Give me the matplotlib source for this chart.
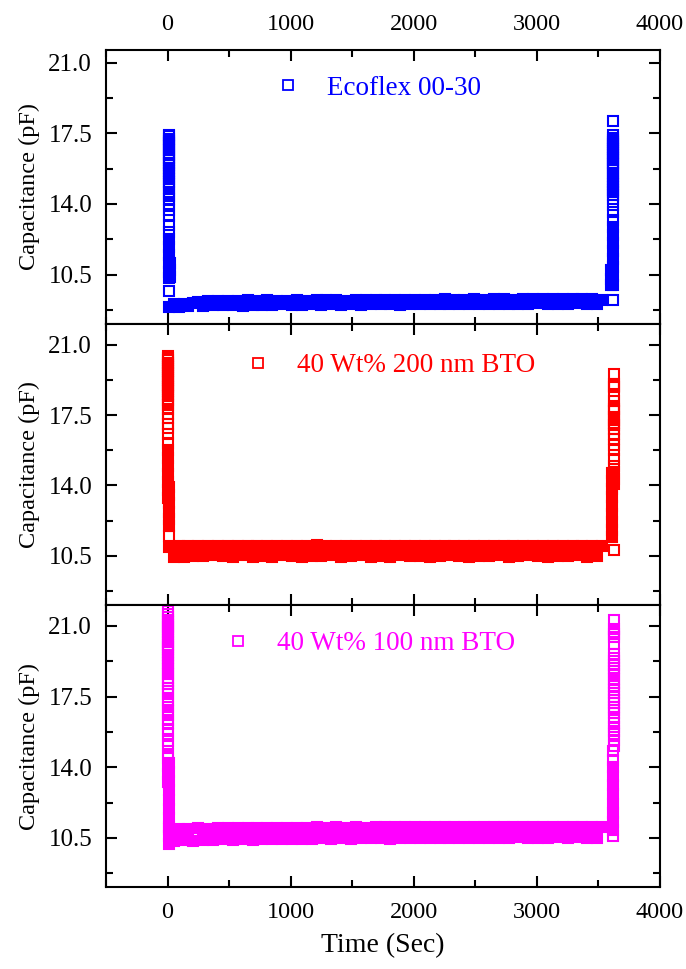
import matplotlib.pyplot as plt
import numpy as np
from matplotlib.lines import Line2D
from matplotlib.ticker import MultipleLocator, FormatStrFormatter

plt.rcParams['font.family'] = ['Liberation Serif', 'DejaVu Serif']

# readings during the long hold, one every 40 s
hold_t = np.arange(10, 3531, 40)

# ---- Ecoflex 00-30 (blue) ----
eco_hold = [
    8.90, 9.04, 8.88, 9.02, 8.93, 9.08, 9.16, 8.96, 9.20, 8.98,
    9.18, 8.97, 9.21, 9.00, 9.19, 8.96, 9.22, 8.99, 9.20, 9.01,
    9.23, 8.98, 9.21, 9.02, 9.19, 8.99, 9.24, 9.01, 9.21, 9.03,
    9.23, 9.00, 9.22, 9.02, 9.25, 9.01, 9.21, 9.04, 9.24, 9.00,
    9.23, 9.03, 9.25, 9.02, 9.22, 9.04, 9.26, 9.01, 9.24, 9.03,
    9.23, 9.05, 9.26, 9.02, 9.24, 9.04, 9.27, 9.03, 9.23, 9.06,
    9.26, 9.04, 9.28, 9.03, 9.25, 9.05, 9.27, 9.04, 9.29, 9.06,
    9.26, 9.03, 9.28, 9.05, 9.27, 9.07, 9.29, 9.04, 9.28, 9.06,
    9.30, 9.05, 9.27, 9.07, 9.29, 9.04, 9.28, 9.06, 9.26]
eco_start = [17.42, 17.36, 17.23, 17.11, 17.00, 16.88, 16.76, 16.65, 16.53, 16.41,
             16.28, 16.15, 16.03, 15.90, 15.79, 15.65, 15.52, 15.39, 15.25, 15.09,
             14.96, 14.79, 14.59, 14.39, 14.22, 14.00, 13.70, 13.40, 12.93, 12.60]
eco_start_dense = [12.25, 11.85, 11.45, 11.05, 10.65, 10.35]
eco_start_dense2 = [11.05, 10.70, 10.40]
eco_start_last = [9.68]
eco_end = [18.11, 17.42, 17.28, 17.16, 17.06, 16.95, 16.83, 16.71, 16.61, 16.50,
           16.40, 16.28, 16.15, 16.03, 15.95, 15.84, 15.70, 15.54, 15.37, 15.25,
           15.09, 14.96, 14.84, 14.69, 14.57, 14.46, 14.26, 13.96, 13.60, 13.21]
eco_end_dense = [12.85, 12.45, 12.05, 11.65, 11.25, 10.85, 10.45, 10.00]
eco_end_dense2 = [10.70, 10.30, 10.00]
eco_end_last = [9.26]

# ---- 40 Wt% 200 nm BTO (red) ----
b200_hold = [
    10.96, 10.46, 10.99, 10.44, 10.97, 10.51, 11.00, 10.48, 10.98, 10.54,
    11.01, 10.49, 10.99, 10.43, 10.97, 10.52, 11.00, 10.46, 10.98, 10.50,
    11.01, 10.45, 10.99, 10.53, 10.97, 10.48, 11.00, 10.42, 10.98, 10.51,
    11.02, 10.47, 10.99, 10.54, 10.97, 10.44, 11.00, 10.49, 10.98, 10.52,
    11.01, 10.46, 10.99, 10.50, 10.97, 10.43, 11.00, 10.53, 10.98, 10.48,
    11.01, 10.51, 10.99, 10.45, 10.97, 10.49, 11.00, 10.54, 10.98, 10.47,
    11.01, 10.42, 10.99, 10.51, 10.97, 10.48, 11.00, 10.52, 10.98, 10.45,
    11.01, 10.50, 10.99, 10.53, 10.97, 10.47, 11.00, 10.44, 10.98, 10.51,
    11.01, 10.48, 10.99, 10.52, 10.97, 10.46, 11.00, 10.50, 10.98]
b200_start = [20.44, 20.32, 20.23, 20.11, 20.00, 19.90, 19.78, 19.67, 19.57, 19.46,
              19.34, 19.24, 19.13, 19.01, 18.92, 18.80, 18.68, 18.55, 18.44, 18.27,
              18.14, 17.98, 17.78, 17.56, 17.35, 17.07, 16.86, 16.55, 16.09]
b200_start_dense = [15.75, 15.35, 14.95, 14.55, 14.15, 13.75, 13.35]
b200_start_dense2 = [13.90, 13.50, 13.10, 12.70, 12.35, 12.00]
b200_start_last = [11.46]
b200_end = [19.52, 19.05, 18.97, 18.89, 18.46, 18.21, 17.86, 17.79, 17.71, 17.40,
            17.24, 17.12, 16.99, 16.83, 16.55, 16.29, 16.01, 15.76, 15.30, 14.98]
b200_end_dense = [14.65, 14.30, 14.05]
b200_end_dense2 = [14.60, 14.20, 13.80, 13.40, 13.00, 12.60, 12.20, 11.80, 11.45]
b200_end_last = [10.77]

# ---- 40 Wt% 100 nm BTO (magenta) ----
b100_hold = [
    10.92, 10.35, 10.94, 10.39, 10.95, 10.37, 10.97, 10.41, 10.96, 10.39,
    10.98, 10.43, 10.97, 10.40, 10.99, 10.44, 10.98, 10.42, 11.00, 10.45,
    10.99, 10.43, 11.01, 10.46, 10.99, 10.44, 11.01, 10.47, 11.00, 10.45,
    11.02, 10.48, 11.00, 10.46, 11.02, 10.49, 11.01, 10.47, 11.03, 10.49,
    11.01, 10.48, 11.03, 10.50, 11.02, 10.47, 11.04, 10.51, 11.02, 10.49,
    11.04, 10.50, 11.02, 10.48, 11.04, 10.51, 11.03, 10.49, 11.05, 10.52,
    11.03, 10.50, 11.05, 10.51, 11.03, 10.49, 11.05, 10.52, 11.04, 10.50,
    11.05, 10.53, 11.04, 10.51, 11.06, 10.52, 11.04, 10.50, 11.06, 10.53,
    11.05, 10.51, 11.06, 10.54, 11.04, 10.52, 11.06, 10.51, 11.05]
b100_start = [21.73, 21.56, 21.45, 21.31, 21.20, 21.06, 20.94, 20.82, 20.69, 20.57,
              20.44, 20.32, 20.19, 20.07, 19.94, 19.83, 19.70, 19.55, 19.42, 19.30,
              19.17, 19.00, 18.87, 18.72, 18.59, 18.43, 18.26, 18.13, 17.93, 17.77,
              17.60, 17.35, 17.19, 16.99, 16.78, 16.58, 16.36, 16.20, 15.90, 15.62,
              15.29, 15.04, 14.66, 14.46]
b100_start_dense = [14.05, 13.65, 13.25]
b100_start_dense2 = [14.19, 13.75, 13.30, 12.85, 12.40, 11.95, 11.50, 11.05, 10.60, 10.18]
b100_end = [21.27, 20.82, 20.69, 20.57, 20.44, 20.09, 19.58, 19.41, 19.25, 19.08,
            18.92, 18.76, 18.59, 18.38, 18.18, 18.01, 17.82, 17.65, 17.48, 17.32,
            17.19, 16.99, 16.83, 16.66, 16.44, 16.20, 16.00, 15.79, 15.62, 15.37,
            15.04]
b100_end2 = [14.79, 14.38]
b100_end_dense2 = [14.00, 13.55, 13.10, 12.65, 12.20, 11.75, 11.30, 10.90]
b100_end_last = [10.60]

MS, MEW = 7.6, 1.5

def column(ax, t, vals, color, filled=False):
    # dense stretches: the overlapping open squares read as solid, so draw them filled
    ax.plot(np.full(len(vals), t), vals, ls='none', marker='s', ms=MS, mew=MEW,
            color=color, mfc=color if filled else 'none')

fig = plt.figure(figsize=(6.86, 9.69), dpi=100)
L, W = 106/686, 554/686
ax1 = fig.add_axes([L, 1-324/969, W, 274/969])
ax2 = fig.add_axes([L, 1-605/969, W, 281/969])
ax3 = fig.add_axes([L, 1-887/969, W, 282/969])

panels = [
    (ax1, 'blue', 'Ecoflex 00-30', eco_hold,
     [(8, eco_start, False), (8, eco_start_dense, True), (16, eco_start_dense2, True),
      (10, eco_start_last, False),
      (3615, eco_end, False), (3615, eco_end_dense, True), (3600, eco_end_dense2, True),
      (3615, eco_end_last, False)],
     (288, 0.861), (8.05, 21.62)),
    (ax2, 'red', '40 Wt% 200 nm BTO', b200_hold,
     [(5, b200_start, False), (5, b200_start_dense, True), (14, b200_start_dense2, True),
      (10, b200_start_last, False),
      (3625, b200_end, False), (3625, b200_end_dense, True), (3610, b200_end_dense2, True),
      (3625, b200_end_last, False)],
     (258, 0.851), (8.05, 22.03)),
    (ax3, 'magenta', '40 Wt% 100 nm BTO', b100_hold,
     [(5, b100_start, False), (5, b100_start_dense, True), (15, b100_start_dense2, True),
      (3627, b100_end, False), (3615, b100_end2, False), (3615, b100_end_dense2, True),
      (3620, b100_end_last, False)],
     (238, 0.862), (8.07, 22.03)),
]

for ax, color, label, hold, cols, (mx, my), ylim in panels:
    ax.plot(hold_t, hold, ls='none', marker='s', ms=MS, mew=MEW, color=color, mfc=color)
    for t, vals, filled in cols:
        column(ax, t, vals, color, filled)

    ax.set_xlim(-500, 4000)
    ax.set_ylim(*ylim)
    ax.set_xticks(range(0, 4001, 1000))
    ax.xaxis.set_minor_locator(MultipleLocator(500))
    ax.set_yticks([10.5, 14.0, 17.5, 21.0])
    ax.set_yticks([8.75, 12.25, 15.75, 19.25], minor=True)
    ax.yaxis.set_major_formatter(FormatStrFormatter('%.1f'))
    ax.tick_params(which='both', direction='in', top=True, right=True, width=1.5,
                   labelsize=17.5)
    ax.tick_params(axis='y', labelsize=18)
    ax.tick_params(which='major', length=8)
    ax.tick_params(which='minor', length=5)
    ax.tick_params(axis='y', pad=10)
    ax.tick_params(axis='x', pad=11)
    for s in ax.spines.values():
        s.set_linewidth(1.5)
    ax.set_ylabel('Capacitance (pF)', fontsize=17.5, labelpad=6)

    h = Line2D([], [], ls='none', marker='s', ms=MS, mew=1.3, color=color, mfc='none')
    fs = 19.5
    hl = 0.6
    x0 = (mx - hl*fs*100/72/2 - 106) / 554
    ax.legend([h], [label], loc='center left', bbox_to_anchor=(x0, my),
              frameon=False, fontsize=fs, handlelength=hl, handletextpad=1.15,
              borderpad=0, borderaxespad=0, labelcolor=color)

ax1.tick_params(labeltop=True, labelbottom=False)
ax2.tick_params(labelbottom=False)
ax3.set_xlabel('Time (Sec)', fontsize=20, labelpad=7)

fig.savefig('out.png', dpi=100)
